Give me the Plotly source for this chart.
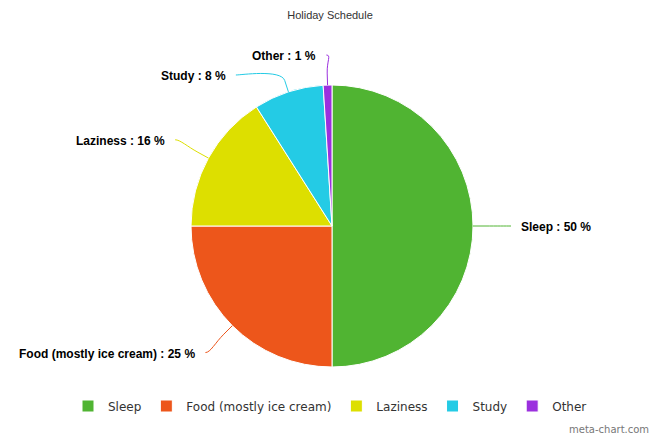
import math
import plotly.graph_objects as go

# ---- data ----
categories = ["Sleep", "Food (mostly ice cream)", "Laziness", "Study", "Other"]
values = [50, 25, 16, 8, 1]
colors = ["#50B432", "#ED561B", "#DDDF00", "#24CBE5", "#9B30DE"]
title_text = "Holiday Schedule"
credit_text = "meta-chart.com"

# ---- layout constants (pixels) ----
W, H = 660, 440
CX, CY, R = 332, 226, 141
LABEL_DIST = 38
BREAK_DIST = 12
LABEL_GAP = 8
LABEL_TOP = 55
LABEL_SPACING = 20


def px(x):
    return x / W


def py(y):
    return 1 - y / H


fig = go.Figure(
    go.Pie(
        labels=categories,
        values=values,
        sort=False,
        direction="clockwise",
        rotation=0,
        marker=dict(colors=colors, line=dict(color="white", width=1)),
        textinfo="none",
        hoverinfo="label+percent",
        domain=dict(x=[px(CX - R), px(CX + R)], y=[py(CY + R), py(CY - R)]),
    )
)

# ---- outside labels with connectors, derived from slice angles ----
total = float(sum(values))
R2 = R + LABEL_DIST
items = []
cum = 0.0
for lab, v, col in zip(categories, values, colors):
    mid = (cum + v / 2.0) / total * 2 * math.pi
    cum += v
    dx, dy = math.sin(mid), -math.cos(mid)
    items.append(dict(label=lab, v=v, col=col, dx=dx, dy=dy,
                      ny=CY + R2 * dy, left=dx < 0))

shapes = []
annotations = []
for side in (True, False):
    group = sorted([it for it in items if it["left"] == side], key=lambda t: t["ny"])
    prev = -1e9
    for it in group:
        y = max(it["ny"], LABEL_TOP, prev + LABEL_SPACING)
        clamped = (it["ny"] < LABEL_TOP) and abs(y - LABEL_TOP) < 1e-9
        prev = y
        yy = it["ny"] if clamped else y
        off = math.sqrt(max(R2 ** 2 - (yy - CY) ** 2, 0))
        sgn = -1 if side else 1
        ax = CX + sgn * off
        ay = y
        ex, ey = CX + R * it["dx"], CY + R * it["dy"]
        bx, by = CX + (R + BREAK_DIST) * it["dx"], CY + (R + BREAK_DIST) * it["dy"]
        c1x = ax - sgn * 5
        c2x, c2y = 2 * bx - ex, 2 * by - ey
        path = (f"M {px(ax):.5f},{py(ay):.5f} "
                f"C {px(c1x):.5f},{py(ay):.5f} {px(c2x):.5f},{py(c2y):.5f} {px(bx):.5f},{py(by):.5f} "
                f"L {px(ex):.5f},{py(ey):.5f}")
        shapes.append(dict(type="path", path=path, xref="paper", yref="paper",
                           line=dict(color=it["col"], width=1)))
        annotations.append(dict(
            text=f"{it['label']} : {it['v']} %",
            x=px(ax + sgn * LABEL_GAP),
            y=py(ay + 1),
            xref="paper", yref="paper",
            xanchor="right" if side else "left", yanchor="middle",
            showarrow=False,
            font=dict(family="Liberation Sans, Arial", size=12, color="#000000", weight="bold"),
        ))

annotations.append(dict(
    text=credit_text, x=px(651), y=py(429), xref="paper", yref="paper",
    xanchor="right", yanchor="middle", showarrow=False,
    font=dict(family="DejaVu Sans", size=10, color="#777777"),
))

fig.update_layout(
    width=W, height=H,
    margin=dict(l=0, r=0, t=0, b=0),
    paper_bgcolor="white", plot_bgcolor="white",
    title=dict(text=title_text, x=0.5, xanchor="center", y=py(15.5), yanchor="middle",
               xref="paper", yref="paper",
               font=dict(family="Liberation Sans, Arial", size=11, color="#333333")),
    legend=dict(orientation="h", x=0.5, xanchor="center", y=py(406), yanchor="middle",
                font=dict(family="DejaVu Sans", size=12, color="#333333"),
                traceorder="normal"),
    shapes=shapes,
    annotations=annotations,
)

fig.write_html("out.html",
               config={"displayModeBar": False},
               post_script="document.body.style.margin='0';document.body.style.overflow='hidden';")
